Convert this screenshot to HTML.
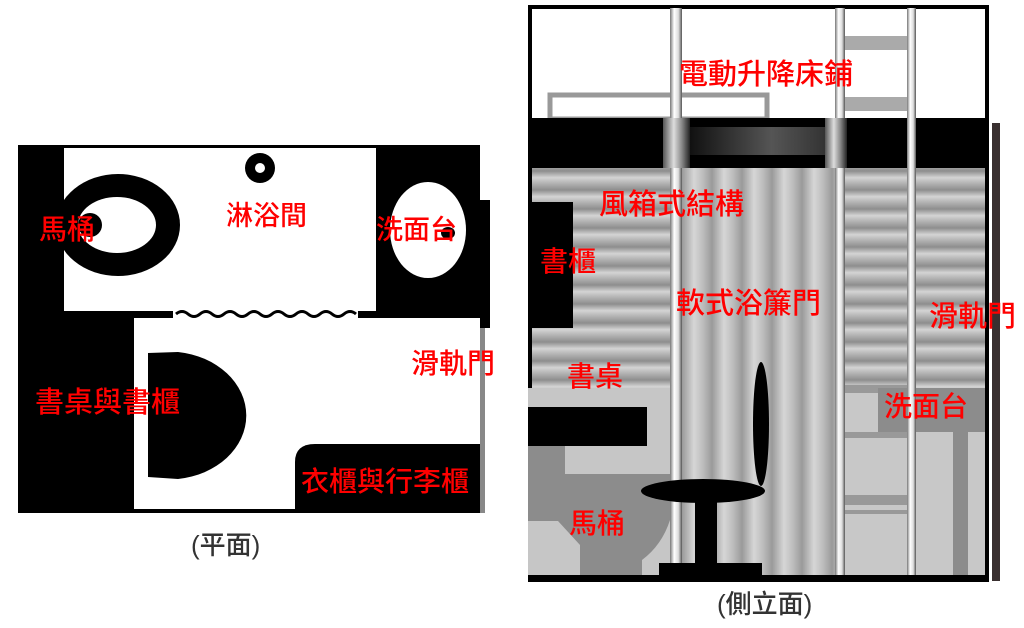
<!DOCTYPE html>
<html><head><meta charset="utf-8"><style>
html,body{margin:0;padding:0;background:#fff;width:1024px;height:628px;overflow:hidden}
svg{display:block}
text{font-family:"Liberation Sans","Noto Sans CJK TC",sans-serif;fill:#ff0000;font-weight:500}
</style></head><body>
<svg width="1024" height="628" viewBox="0 0 1024 628" xmlns="http://www.w3.org/2000/svg">
<defs>
<linearGradient id="hs" x1="0" y1="0" x2="0" y2="1">
<stop offset="0" stop-color="#8e8e8e"/><stop offset="0.35" stop-color="#d4d4d4"/><stop offset="0.6" stop-color="#b8b8b8"/><stop offset="1" stop-color="#8e8e8e"/></linearGradient>
<pattern id="hstripe" width="40" height="19" patternUnits="userSpaceOnUse" y="0">
<rect width="40" height="19" fill="url(#hs)"/></pattern>
<linearGradient id="vs" x1="0" y1="0" x2="1" y2="0">
<stop offset="0" stop-color="#9a9a9a"/><stop offset="0.4" stop-color="#d6d6d6"/><stop offset="0.7" stop-color="#bdbdbd"/><stop offset="1" stop-color="#9a9a9a"/></linearGradient>
<pattern id="vstripe" width="30" height="40" patternUnits="userSpaceOnUse" x="682">
<rect width="30" height="40" fill="url(#vs)"/></pattern>
<linearGradient id="post" x1="0" y1="0" x2="1" y2="0">
<stop offset="0" stop-color="#777"/><stop offset="0.35" stop-color="#fff"/><stop offset="0.7" stop-color="#ddd"/><stop offset="1" stop-color="#555"/></linearGradient>
<linearGradient id="sleeve" x1="0" y1="0" x2="1" y2="0">
<stop offset="0" stop-color="#555"/><stop offset="0.4" stop-color="#ddd"/><stop offset="0.7" stop-color="#888"/><stop offset="1" stop-color="#222"/></linearGradient>
<linearGradient id="box" x1="0" y1="0" x2="1" y2="0">
<stop offset="0" stop-color="#111"/><stop offset="0.6" stop-color="#555"/><stop offset="1" stop-color="#333"/></linearGradient>
</defs>

<!-- PLAN -->
<rect x="18" y="145" width="462" height="368" fill="#000"/>
<rect x="64" y="148" width="312" height="163" fill="#fff"/>
<rect x="134" y="318" width="346" height="191" fill="#fff"/>
<rect x="173" y="310" width="185" height="9" fill="#fff"/>
<path d="M176,314 q6,-5 12,0 t12,0 t12,0 t12,0 t12,0 t12,0 t12,0 t12,0 t12,0 t12,0 t12,0 t12,0 t12,0 t12,0 t12,0" stroke="#000" stroke-width="3" fill="none"/>
<path d="M295,509 L295,462 Q295,444 315,444 L480,444 L480,509 Z" fill="#000"/>
<ellipse cx="118" cy="225" rx="62" ry="51" fill="#000"/>
<ellipse cx="117" cy="225" rx="39" ry="28" fill="#fff"/>
<circle cx="90" cy="225" r="12" fill="#000"/>
<rect x="18" y="148" width="46" height="163" fill="#000"/>
<circle cx="260" cy="168" r="15" fill="#000"/>
<circle cx="260" cy="168" r="5" fill="#fff"/>
<ellipse cx="428" cy="230" rx="38" ry="48" fill="#fff"/>
<ellipse cx="448" cy="233" rx="7" ry="6" fill="#000"/>
<path d="M148,353 L178,352 A78,64 0 0 1 178,479 L148,477 Z" fill="#000"/>
<rect x="480" y="200" width="10" height="128" fill="#000"/>
<rect x="480" y="328" width="5" height="185" fill="#888"/>
<text x="39" y="239" font-size="28">馬桶</text>
<text x="226" y="225" font-size="27">淋浴間</text>
<text x="376" y="239" font-size="27">洗面台</text>
<text x="411" y="373" font-size="28">滑軌門</text>
<text x="35" y="412" font-size="29">書桌與書櫃</text>
<text x="301" y="491" font-size="28">衣櫃與行李櫃</text>
<text x="191" y="554" font-size="26" style="fill:#333">(平面)</text>

<!-- ELEVATION -->
<rect x="528" y="5" width="461" height="577" fill="#000"/>
<rect x="532" y="9" width="453" height="110" fill="#fff"/>
<rect x="550" y="95" width="217" height="24" fill="none" stroke="#999" stroke-width="5"/>
<rect x="532" y="168" width="138" height="220" fill="url(#hstripe)"/>
<rect x="916" y="168" width="69" height="222" fill="url(#hstripe)"/>
<rect x="845" y="168" width="62" height="220" fill="url(#hstripe)"/>
<rect x="682" y="168" width="153" height="410" fill="url(#vstripe)"/>
<rect x="532" y="118" width="453" height="50" fill="#000"/>
<rect x="690" y="127" width="136" height="28" fill="url(#box)"/>
<rect x="845" y="36" width="62" height="14" fill="#aaa"/>
<rect x="845" y="97" width="62" height="14" fill="#aaa"/>
<rect x="532" y="202" width="41" height="126" fill="#000"/>
<rect x="528" y="388" width="142" height="188" fill="#c6c6c6"/>
<path d="M528,446 L565,446 L565,474 L670,474 L670,520 Q662,545 642,560 L642,576 L580,576 L580,545 L558,521 L528,521 Z" fill="#8c8c8c"/>
<rect x="528" y="407" width="119" height="39" fill="#000"/>
<rect x="845" y="388" width="62" height="188" fill="#c8c8c8"/>
<rect x="845" y="385" width="62" height="8" fill="#999"/>
<rect x="845" y="432" width="62" height="6" fill="#999"/>
<rect x="845" y="495" width="62" height="10" fill="#999"/>
<rect x="845" y="510" width="62" height="4" fill="#999"/>
<rect x="907" y="390" width="78" height="186" fill="#c8c8c8"/>
<rect x="878" y="388" width="107" height="44" fill="#8c8c8c"/>
<rect x="953" y="432" width="15" height="145" fill="#8c8c8c"/>
<rect x="670" y="8" width="12" height="570" fill="url(#post)"/>
<rect x="835" y="8" width="10" height="570" fill="url(#post)"/>
<rect x="907" y="8" width="9" height="570" fill="url(#post)"/>
<rect x="663" y="118" width="27" height="50" fill="url(#sleeve)"/>
<rect x="825" y="118" width="22" height="50" fill="url(#sleeve)"/>
<ellipse cx="761" cy="424" rx="8" ry="62" fill="#000"/>
<rect x="695" y="492" width="22" height="72" fill="#000"/>
<ellipse cx="703" cy="491" rx="62" ry="12" fill="#000"/>
<rect x="659" y="563" width="103" height="13" fill="#000"/>
<rect x="528" y="575" width="461" height="7" fill="#000"/>
<rect x="992" y="123" width="8" height="458" fill="#3a3030"/>
<text x="679" y="84" font-size="29">電動升降床鋪</text>
<text x="599" y="214" font-size="29">風箱式結構</text>
<text x="540" y="271" font-size="28">書櫃</text>
<text x="676" y="313" font-size="29">軟式浴簾門</text>
<text x="929" y="326" font-size="29">滑軌門</text>
<text x="567" y="386" font-size="28">書桌</text>
<text x="884" y="416" font-size="28">洗面台</text>
<text x="569" y="533" font-size="28">馬桶</text>
<text x="717" y="613" font-size="26" style="fill:#333">(側立面)</text>
</svg>
</body></html>
